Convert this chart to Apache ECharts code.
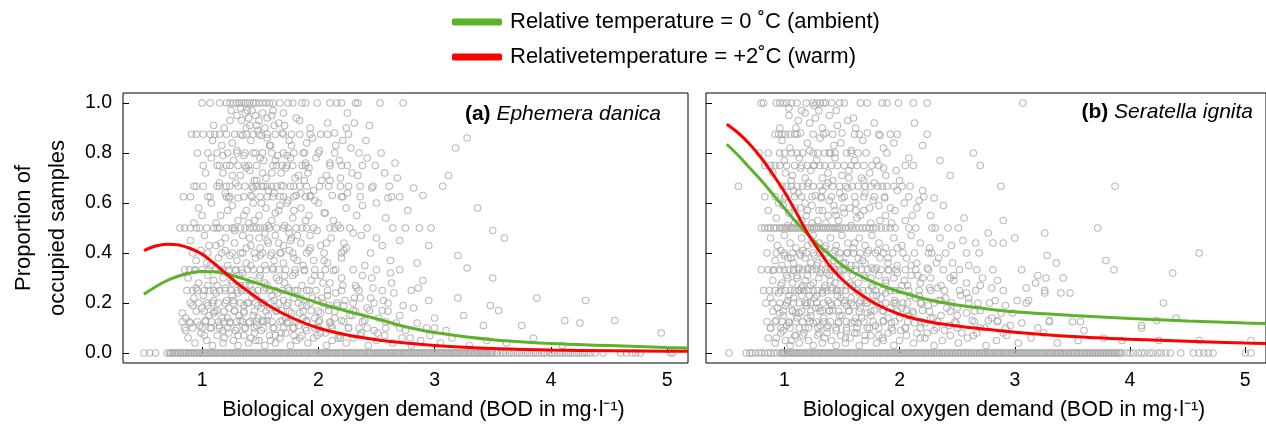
<!DOCTYPE html>
<html>
<head>
<meta charset="utf-8">
<script src="https://cdn.jsdelivr.net/npm/echarts@6/dist/echarts.min.js"></script>
<style>html,body{margin:0;padding:0;background:#fff}#c{width:1266px;height:426px}</style>
</head>
<body>
<div id="c"></div>
<script>
// ---------- data ----------
const xTicks = [1, 2, 3, 4, 5];
const yTicks = [0, 0.2, 0.4, 0.6, 0.8, 1.0];
const legendNames = ['Relative temperature = 0 \u02DAC (ambient)', 'Relativetemperature = +2\u02DAC (warm)'];
const panelTitles = [['(a)', 'Ephemera danica'], ['(b)', 'Seratella ignita']];

const curveX   = [0.5,0.6,0.7,0.8,0.9,1.0,1.1,1.2,1.3,1.4,1.5,1.6,1.8,2.0,2.25,2.5,2.75,3.0,3.5,4.0,4.5,5.0,5.18];
const aAmbient = [0.235,0.265,0.29,0.308,0.32,0.326,0.325,0.318,0.305,0.29,0.275,0.26,0.23,0.2,0.167,0.137,0.105,0.082,0.053,0.038,0.03,0.022,0.02];
const aWarm    = [0.41,0.428,0.435,0.432,0.418,0.395,0.36,0.32,0.28,0.245,0.212,0.182,0.135,0.1,0.072,0.053,0.04,0.03,0.018,0.012,0.009,0.007,0.007];
const bAmbient = [0.835,0.79,0.74,0.69,0.635,0.58,0.525,0.475,0.43,0.39,0.352,0.322,0.278,0.245,0.213,0.192,0.177,0.165,0.15,0.138,0.128,0.12,0.118];
const bWarm    = [0.915,0.88,0.835,0.78,0.715,0.645,0.565,0.48,0.41,0.345,0.295,0.255,0.195,0.155,0.125,0.108,0.095,0.083,0.066,0.055,0.047,0.04,0.038];

// proportions that repeat (rows of points), x positions per row
const rowY = [1, 0.875, 0.8, 0.75, 0.667, 0.625, 0.5, 0.4, 0.333, 0.25, 0.2, 0.167, 0.125, 0.1];
const aRowX = [
 [1.0,1.07,1.15,1.21,1.24,1.27,1.3,1.32,1.34,1.37,1.39,1.41,1.44,1.46,1.49,1.52,1.55,1.58,1.61,1.67,1.74,1.78,1.86,1.89,1.99,2.1,2.16,2.2,2.32,2.34,2.53,2.73],
 [0.91,0.95,1.01,1.07,1.11,1.15,1.21,1.28,1.33,1.38,1.44,1.49,1.56,1.63,1.7,1.77,1.84,1.93,2.02,2.08,2.26],
 [1.05,1.13,1.22,1.3,1.37,1.46,1.52,1.6,1.7,1.79,1.88,2.0,2.14,2.35],
 [1.01,1.13,1.15,1.21,1.24,1.31,1.37,1.4,1.47,1.61,1.64,1.69,1.73,1.78,1.86,1.89,2.1,2.2,2.25,2.38,2.49],
 [0.93,0.95,1.01,1.13,1.15,1.21,1.24,1.31,1.37,1.43,1.47,1.51,1.53,1.56,1.6,1.64,1.7,1.76,1.79,1.84,1.9,2.01,2.09,2.19,2.26,2.36,2.47,2.61,3.07],
 [0.84,0.9,1.05,1.07,1.21,1.24,1.36,1.43,1.5,1.56,1.61,1.67,1.7,1.79,1.89,1.93,2.2,2.21,2.36,2.63,2.7],
 [0.81,0.85,0.9,0.95,0.98,1.04,1.1,1.13,1.15,1.21,1.26,1.28,1.33,1.37,1.41,1.44,1.47,1.5,1.54,1.58,1.64,1.7,1.74,1.81,1.86,1.9,1.96,2.1,2.14,2.19,2.27,2.42,2.64,2.87,2.97],
 [0.92,1.05,1.17,1.26,1.35,1.45,1.52,1.6,1.68,1.78,1.9,2.05,2.2,2.45],
 [0.85,0.89,0.94,1.0,1.06,1.12,1.18,1.23,1.29,1.34,1.39,1.44,1.5,1.55,1.61,1.66,1.72,1.8,1.88,1.97,2.06,2.15,2.3,2.5,2.7],
 [0.87,0.92,0.96,1.02,1.06,1.1,1.15,1.2,1.25,1.3,1.34,1.38,1.43,1.48,1.53,1.58,1.63,1.69,1.75,1.82,1.9,1.98,2.08,2.2,2.35,2.55,2.8],
 [0.9,0.97,1.04,1.09,1.14,1.2,1.27,1.33,1.4,1.46,1.52,1.59,1.66,1.74,1.83,1.93,2.04,2.16,2.3,2.48],
 [0.95,1.02,1.11,1.19,1.28,1.36,1.45,1.55,1.64,1.75,1.87,2.0,2.14,2.32,2.6],
 [0.83,0.89,0.96,1.03,1.08,1.14,1.19,1.24,1.3,1.35,1.41,1.47,1.53,1.6,1.67,1.74,1.81,1.9,2.0,2.1,2.22,2.38,2.58],
 [0.85,0.92,1.0,1.07,1.15,1.22,1.3,1.37,1.45,1.53,1.61,1.7,1.79,1.89,2.0,2.12,2.26,2.42,2.7,3.0]
];
const bRowX = [
 [0.8,0.82,0.93,0.96,0.99,1.02,1.06,1.11,1.19,1.25,1.28,1.31,1.34,1.36,1.41,1.48,1.52,1.66,1.72,1.85,1.89,1.99,2.12,2.24,3.07],
 [0.92,0.95,0.98,1.01,1.05,1.09,1.11,1.25,1.34,1.42,1.61,1.65,1.82,1.92,1.98,2.24],
 [0.78,0.86,0.96,1.0,1.06,1.11,1.16,1.25,1.29,1.35,1.39,1.44,1.54,1.58,1.64,1.71,1.89,2.64],
 [0.83,0.88,0.92,0.96,1.02,1.09,1.15,1.2,1.25,1.31,1.35,1.41,1.46,1.52,1.58,1.63,1.69,1.76,1.82,2.05,2.12,2.7],
 [0.6,0.98,1.02,1.06,1.11,1.16,1.2,1.25,1.31,1.36,1.42,1.48,1.53,1.59,1.64,1.7,1.75,1.81,1.85,1.89,1.95,2.02,2.09,2.88,3.87],
 [0.83,0.92,1.01,1.09,1.15,1.24,1.32,1.41,1.52,1.61,1.69,1.78,1.87,2.08,2.21],
 [0.8,0.83,0.86,0.88,0.91,0.93,0.96,0.98,1.0,1.02,1.04,1.06,1.08,1.1,1.12,1.14,1.16,1.18,1.2,1.22,1.24,1.26,1.28,1.3,1.32,1.34,1.36,1.38,1.4,1.42,1.44,1.46,1.48,1.5,1.53,1.56,1.59,1.62,1.65,1.68,1.71,1.74,1.77,1.8,1.84,1.88,1.92,1.96,2.08,2.14,2.28,2.31,2.42,2.51,3.72],
 [0.85,0.93,1.0,1.07,1.13,1.19,1.25,1.31,1.36,1.42,1.48,1.54,1.6,1.66,1.72,1.79,1.86,1.94,2.03,2.13,2.25,2.4,2.58,2.69,4.6],
 [0.8,0.86,0.91,0.96,1.0,1.04,1.08,1.12,1.16,1.2,1.24,1.28,1.32,1.36,1.4,1.44,1.48,1.52,1.57,1.62,1.67,1.72,1.78,1.84,1.9,1.97,2.05,2.14,2.25,2.38,2.52,2.67,2.81,3.06,3.86],
 [0.82,0.87,0.92,0.97,1.01,1.05,1.09,1.13,1.17,1.21,1.25,1.29,1.33,1.37,1.41,1.45,1.49,1.53,1.58,1.63,1.68,1.73,1.79,1.85,1.92,2.0,2.08,2.17,2.27,2.39,2.52,2.66,2.9,3.26],
 [0.84,0.9,0.96,1.02,1.08,1.13,1.18,1.23,1.28,1.34,1.4,1.46,1.52,1.58,1.65,1.72,1.8,1.88,1.97,2.07,2.18,2.3,2.45,2.6,2.78,3.1,4.29],
 [0.9,0.99,1.07,1.15,1.23,1.31,1.39,1.47,1.56,1.65,1.75,1.86,1.98,2.11,2.26,2.44,2.65],
 [0.85,0.92,0.98,1.04,1.1,1.16,1.22,1.28,1.34,1.4,1.47,1.54,1.61,1.69,1.77,1.86,1.96,2.07,2.19,2.33,2.48,2.65,2.85,3.3,3.5,3.57],
 [0.88,0.97,1.05,1.13,1.21,1.29,1.37,1.45,1.54,1.63,1.72,1.82,1.93,2.05,2.18,2.32,2.5,2.7,2.92,3.2,4.1]
];

// samples with zero occupancy (x positions)
const aZeroX = [0.5,0.55,0.6,0.7,0.72,0.745,0.77,0.79,0.815,0.84,0.86,0.885,0.91,0.93,0.955,0.98,1.0,1.025,1.05,1.07,1.095,1.12,1.14,1.165,1.19,1.21,1.235,1.26,1.28,1.305,1.33,1.35,1.375,1.4,1.42,1.445,1.47,1.49,1.515,1.54,1.56,1.585,1.61,1.63,1.655,1.68,1.7,1.725,1.75,1.77,1.795,1.82,1.84,1.865,1.89,1.91,1.935,1.96,1.98,2.005,2.03,2.05,2.075,2.1,2.12,2.145,2.17,2.19,2.215,2.24,2.26,2.285,2.31,2.33,2.355,2.38,2.4,2.425,2.45,2.47,2.495,2.52,2.54,2.565,2.59,2.61,2.635,2.66,2.68,2.705,2.73,2.75,2.775,2.8,2.82,2.845,2.87,2.89,2.915,2.94,2.96,2.985,3.01,3.03,3.055,3.08,3.1,3.125,3.15,3.17,3.195,3.22,3.24,3.265,3.29,3.31,3.335,3.36,3.38,3.405,3.43,3.45,3.475,3.5,3.54,3.57,3.61,3.64,3.68,3.71,3.75,3.78,3.82,3.85,3.89,3.92,3.96,3.99,4.03,4.06,4.1,4.13,4.17,4.2,4.24,4.27,4.31,4.34,4.38,4.45,4.6,4.65,4.7,4.73,4.77,5.03,5.05];
const aZeroX2 = [0.73,0.76,0.8,0.83,0.87,0.9,0.94,0.97,1.01,1.04,1.08,1.11,1.15,1.18,1.22,1.25,1.29,1.32,1.36,1.39,1.43,1.46,1.5,1.53,1.57,1.6,1.64,1.67,1.71,1.74,1.78,1.81,1.85,1.88,1.92,1.95,1.99,2.02,2.06,2.09,2.13,2.16,2.2,2.23,2.27,2.3,2.34,2.37,2.41,2.44,2.48,2.51,2.55,2.58,2.62,2.65,2.69,2.72,2.76,2.79,2.83,2.86,2.9,2.93,2.97,3.0,3.04,3.07,3.11,3.14,3.18,3.21,3.25,3.28,3.32,3.35,3.39,3.42,3.46,3.49,3.53,3.59,3.66,3.73,3.8,3.87,3.94,4.01,4.08,4.15,4.22,4.29];
const bZeroX = [0.52,0.67,0.7,0.72,0.75,0.78,0.8,0.83,0.86,0.88,0.91,0.94,0.97,0.99,1.015,1.04,1.06,1.085,1.11,1.13,1.155,1.18,1.2,1.225,1.25,1.27,1.295,1.32,1.34,1.365,1.39,1.41,1.435,1.46,1.48,1.505,1.53,1.55,1.575,1.6,1.62,1.645,1.67,1.69,1.715,1.74,1.76,1.785,1.81,1.83,1.855,1.88,1.9,1.925,1.95,1.97,1.995,2.02,2.04,2.065,2.09,2.11,2.135,2.16,2.18,2.205,2.23,2.25,2.275,2.3,2.32,2.345,2.37,2.39,2.415,2.44,2.46,2.485,2.51,2.53,2.555,2.58,2.6,2.625,2.65,2.67,2.695,2.72,2.74,2.765,2.79,2.81,2.835,2.86,2.88,2.905,2.93,2.95,2.975,3.0,3.02,3.045,3.07,3.09,3.115,3.14,3.16,3.185,3.21,3.23,3.255,3.28,3.3,3.325,3.35,3.37,3.395,3.42,3.44,3.465,3.49,3.51,3.535,3.56,3.58,3.605,3.63,3.65,3.675,3.7,3.72,3.745,3.77,3.79,3.815,3.84,3.86,3.885,3.91,3.93,3.97,4.0,4.03,4.07,4.1,4.13,4.17,4.2,4.24,4.27,4.31,4.35,4.44,4.55,4.6,4.64,4.68,4.72,5.0,5.05];
const bZeroX2 = [0.98,1.0,1.03,1.07,1.1,1.14,1.17,1.21,1.24,1.28,1.31,1.35,1.38,1.42,1.45,1.49,1.52,1.56,1.59,1.63,1.66,1.7,1.73,1.77,1.8,1.84,1.87,1.91,1.94,1.98,2.01,2.05,2.08,2.12,2.15,2.19,2.22,2.26,2.29,2.33,2.36,2.4,2.43,2.47,2.5,2.54,2.57,2.61,2.64,2.68,2.71,2.75,2.78,2.82,2.85,2.89,2.92,2.96,2.99,3.03,3.06,3.1,3.13,3.17,3.2,3.24,3.27,3.31,3.34,3.38,3.41,3.45,3.48,3.52,3.55,3.59,3.62,3.66,3.69,3.73,3.76,3.8,3.83,3.87,3.9];

// other samples [BOD, proportion]
const aPts = [
 [1.3,.95],[1.34,.93],[1.37,.96],[1.4,.94],[1.43,.97],[1.46,.95],[1.49,.93],[1.52,.96],[1.56,.94],[1.6,.95],[1.1,.91],[1.19,.9],[1.38,.9],[1.47,.91],[1.54,.9],[1.66,.92],[1.71,.91],[1.93,.9],[2.08,.92],[2.24,.9],[2.31,.92],[2.44,.91],[2.25,.96],[1.26,.84],[1.42,.85],[1.58,.83],[1.75,.85],[1.9,.84],[2.15,.83],
 [1.08,.78],[1.18,.72],[1.27,.77],[1.33,.71],[1.41,.73],[1.5,.78],[1.55,.7],[1.63,.77],[1.68,.72],[1.76,.78],[1.83,.71],[1.92,.74],[1.98,.78],[2.07,.71],[2.18,.77],[2.29,.72],[2.42,.78],[2.57,.72],[2.66,.76],[1.45,.69],[1.88,.69],
 [0.97,.58],[1.08,.6],[1.16,.55],[1.26,.59],[1.31,.53],[1.38,.57],[1.44,.6],[1.49,.55],[1.55,.58],[1.6,.53],[1.66,.57],[1.73,.6],[1.78,.54],[1.85,.58],[1.92,.55],[2.0,.6],[2.06,.56],[2.13,.53],[2.24,.58],[2.33,.55],[2.5,.6],[2.58,.54],[2.77,.57],[2.9,.63],[1.2,.64],[1.62,.64],[1.96,.65],
 [0.9,.45],[1.02,.47],[1.12,.43],[1.2,.46],[1.28,.44],[1.35,.47],[1.42,.43],[1.49,.46],[1.57,.44],[1.63,.47],[1.7,.43],[1.77,.46],[1.85,.44],[1.93,.47],[2.02,.43],[2.11,.46],[2.22,.44],[2.37,.47],[2.55,.43],[2.7,.45],[3.28,.34],
 [0.95,.37],[1.04,.36],[1.14,.38],[1.22,.35],[1.3,.37],[1.38,.36],[1.46,.38],[1.54,.35],[1.62,.37],[1.7,.36],[1.79,.38],[1.87,.35],[1.96,.37],[2.08,.36],[2.2,.38],[2.4,.35],[2.62,.37],[2.85,.36],
 [0.88,.3],[0.97,.28],[1.05,.31],[1.13,.27],[1.18,.3],[1.26,.28],[1.32,.31],[1.37,.27],[1.42,.29],[1.5,.31],[1.56,.27],[1.64,.3],[1.71,.28],[1.78,.31],[1.86,.27],[1.94,.29],[2.02,.31],[2.1,.28],[2.2,.3],[2.32,.27],[2.46,.3],[2.63,.28],[2.9,.29],[3.5,.3],
 [0.83,.16],[0.86,.14],[0.93,.22],[1.0,.18],[1.06,.15],[1.1,.21],[1.17,.14],[1.23,.18],[1.26,.23],[1.32,.15],[1.36,.19],[1.43,.22],[1.48,.14],[1.51,.18],[1.57,.15],[1.62,.21],[1.68,.17],[1.72,.14],[1.79,.22],[1.84,.16],[1.9,.19],[1.97,.14],[2.03,.22],[2.09,.17],[2.14,.14],[2.22,.19],[2.29,.15],[2.36,.22],[2.44,.17],[2.52,.14],[2.6,.2],[2.7,.15],[2.82,.18],[3.0,.14],[3.2,.22],[3.48,.19],
 [0.88,.06],[0.94,.04],[0.99,.08],[1.04,.05],[1.09,.03],[1.13,.07],[1.18,.04],[1.23,.08],[1.27,.05],[1.31,.03],[1.36,.07],[1.4,.04],[1.45,.08],[1.49,.05],[1.54,.03],[1.58,.07],[1.63,.04],[1.67,.06],[1.72,.08],[1.76,.03],[1.81,.05],[1.86,.07],[1.91,.04],[1.96,.06],[2.02,.08],[2.07,.03],[2.12,.05],[2.18,.07],[2.24,.04],[2.3,.06],[2.37,.08],[2.43,.03],[2.5,.05],[2.57,.07],[2.64,.04],[2.72,.06],[2.8,.03],[2.88,.05],[2.96,.07],[3.05,.04],[3.15,.06],[3.3,.03],[3.45,.05],[3.62,.04],[3.85,.06],[4.1,.03],
 [3.12,.71],[3.18,.82],[3.28,.86],[3.37,.58],[3.5,.49],[3.6,.46],[3.88,.22],[4.12,.13],[4.3,.21],[4.25,.12],[3.75,.11],[3.55,.17],[4.55,.13],[4.95,.08],[3.2,.39],[2.95,.43],[3.42,.11]
];
const aPtsDense = [
 [0.86,.09],[0.9,.12],[0.92,.19],[0.95,.26],[0.98,.11],[1.01,.23],[1.03,.13],[1.05,.27],[1.08,.1],[1.1,.16],[1.12,.24],[1.15,.11],[1.16,.33],[1.19,.06],[1.21,.21],[1.24,.12],[1.25,.29],[1.28,.17],[1.29,.09],[1.31,.24],[1.33,.13],[1.35,.32],[1.37,.1],[1.39,.2],[1.41,.27],[1.42,.06],[1.44,.15],[1.46,.23],[1.47,.11],[1.49,.3],[1.51,.09],[1.53,.2],[1.55,.26],[1.56,.13],[1.59,.05],[1.6,.23],[1.62,.1],[1.64,.17],[1.66,.29],[1.68,.08],[1.7,.21],[1.73,.12],[1.74,.26],[1.77,.16],[1.79,.07],[1.8,.32],[1.83,.11],[1.85,.22],[1.87,.14],[1.9,.09],[1.92,.25],[1.94,.17],[1.97,.1],[1.99,.21],[2.01,.13],[2.04,.28],[2.06,.08],[2.09,.19],[2.11,.11],[2.15,.24],[2.17,.06],[2.2,.13],[2.23,.21],[2.26,.1],[2.3,.17],[2.33,.26],[2.36,.07],[2.4,.13],[2.45,.22],[2.48,.09],[2.55,.17],[2.58,.1],[2.65,.24],[2.75,.09],[2.85,.12],[2.95,.21],[3.1,.09],[3.25,.15],
 [1.12,.52],[1.15,.68],[1.17,.83],[1.2,.41],[1.22,.57],[1.24,.93],[1.26,.71],[1.28,.49],[1.3,.81],[1.31,.62],[1.33,.4],[1.35,.87],[1.36,.55],[1.38,.74],[1.39,.97],[1.41,.46],[1.42,.63],[1.44,.8],[1.45,.53],[1.47,.69],[1.48,.89],[1.5,.42],[1.51,.6],[1.53,.77],[1.54,.48],[1.56,.86],[1.57,.65],[1.59,.39],[1.6,.72],[1.62,.91],[1.63,.56],[1.65,.79],[1.66,.44],[1.68,.67],[1.69,.88],[1.71,.51],[1.72,.74],[1.74,.61],[1.75,.41],[1.77,.83],[1.79,.57],[1.8,.7],[1.82,.47],[1.84,.93],[1.85,.64],[1.87,.8],[1.89,.53],[1.91,.72],[1.93,.42],[1.95,.86],[1.97,.61],[1.99,.49],[2.01,.81],[2.03,.69],[2.05,.56],[2.07,.44],[2.1,.76],[2.12,.63],[2.14,.88],[2.17,.51],[2.19,.7],[2.22,.41],[2.25,.64],[2.28,.82],[2.3,.48],[2.34,.71],[2.38,.59],[2.41,.85],[2.46,.66],[2.5,.46],[2.54,.8],[2.6,.62],[2.68,.7],[2.75,.5],[2.82,.66],[1.0,.55],[1.03,.72],[1.06,.43],[1.09,.85],[0.96,.8],[0.93,.52],
 [0.94,.33],[0.99,.41],[1.02,.07],[1.05,.19],[1.07,.35],[1.1,.29],[1.13,.17],[1.16,.44],[1.18,.09],[1.2,.26],[1.22,.14],[1.24,.39],[1.27,.21],[1.29,.33],[1.31,.07],[1.33,.27],[1.36,.16],[1.38,.42],[1.4,.12],[1.42,.35],[1.44,.24],[1.46,.05],[1.48,.19],[1.5,.39],[1.52,.13],[1.54,.28],[1.56,.45],[1.58,.18],[1.61,.34],[1.63,.07],[1.65,.24],[1.67,.4],[1.69,.13],[1.71,.31],[1.73,.19],[1.76,.45],[1.78,.1],[1.8,.25],[1.82,.37],[1.84,.06],[1.86,.19],[1.88,.33],[1.9,.13],[1.92,.41],[1.95,.22],[1.97,.31],[1.99,.07],[2.02,.16],[2.05,.37],[2.08,.23],[2.1,.12],[2.13,.33],[2.16,.19],[2.19,.06],[2.21,.27],[2.24,.42],[2.27,.15],[2.31,.22],[2.35,.1],[2.38,.31],[2.42,.18],[2.47,.26],[2.51,.08],[2.56,.21],[2.62,.32],[2.67,.12],[2.73,.19],[2.79,.06],[2.86,.26],[2.93,.1],
 [1.25,.97],[1.33,.98],[1.41,.91],[1.51,.87],[1.61,.97],[1.7,.96],[1.81,.94],[1.36,.79],[1.44,.66],[1.52,.72],[1.59,.83],[1.67,.59],[1.73,.79],[1.81,.63],[1.89,.76],[1.23,.62],[1.29,.68],[1.18,.79],[1.4,.52],[1.57,.51],[1.75,.48],[1.93,.63],[2.1,.69],[2.21,.85]
];
const bPts = [
 [1.04,.95],[1.12,.93],[1.18,.96],[1.22,.92],[1.27,.94],[1.33,.9],[1.39,.95],[1.46,.91],[1.55,.93],[1.62,.9],[1.78,.92],[1.3,.97],[1.5,.88],[0.96,.9],[2.13,.92],[2.2,.83],[1.2,.84],[1.43,.83],[1.68,.85],[1.95,.84],
 [0.9,.72],[1.0,.77],[1.07,.71],[1.13,.78],[1.18,.7],[1.23,.73],[1.28,.77],[1.33,.7],[1.38,.72],[1.44,.78],[1.5,.71],[1.56,.73],[1.61,.77],[1.67,.7],[1.74,.72],[1.8,.77],[1.88,.71],[1.97,.73],[2.08,.78],[2.35,.77],[2.44,.71],
 [0.86,.57],[0.93,.54],[0.99,.59],[1.04,.56],[1.09,.52],[1.14,.58],[1.19,.55],[1.24,.59],[1.29,.53],[1.33,.57],[1.38,.55],[1.43,.59],[1.47,.53],[1.52,.56],[1.57,.58],[1.63,.54],[1.69,.57],[1.75,.52],[1.82,.59],[1.88,.55],[1.96,.57],[2.05,.53],[2.15,.58],[2.27,.55],[2.38,.59],[2.56,.54],[2.9,.53],
 [0.88,.46],[0.94,.43],[1.0,.47],[1.05,.44],[1.1,.42],[1.15,.46],[1.2,.43],[1.25,.47],[1.3,.44],[1.35,.42],[1.4,.46],[1.45,.43],[1.5,.47],[1.55,.44],[1.6,.42],[1.65,.46],[1.7,.43],[1.76,.47],[1.82,.44],[1.88,.42],[1.95,.46],[2.02,.43],[2.1,.47],[2.18,.44],[2.26,.42],[2.35,.46],[2.45,.43],[2.55,.45],[2.66,.44],[2.77,.48],[2.81,.44],[2.9,.44],[3.0,.46],[3.26,.48],
 [0.92,.37],[0.98,.35],[1.03,.38],[1.08,.36],[1.13,.34],[1.18,.38],[1.23,.36],[1.28,.35],[1.33,.38],[1.38,.36],[1.43,.34],[1.48,.38],[1.53,.36],[1.58,.35],[1.64,.38],[1.7,.36],[1.76,.34],[1.83,.38],[1.9,.36],[1.98,.35],[2.06,.38],[2.15,.36],[2.24,.34],[2.34,.38],[2.46,.36],[2.6,.35],[3.28,.39],[3.36,.36],[3.79,.37],
 [0.9,.29],[0.97,.27],[1.02,.31],[1.07,.28],[1.11,.3],[1.16,.27],[1.2,.31],[1.25,.28],[1.3,.3],[1.35,.27],[1.39,.31],[1.44,.28],[1.49,.3],[1.54,.27],[1.59,.31],[1.64,.28],[1.7,.3],[1.76,.27],[1.82,.31],[1.88,.28],[1.95,.3],[2.02,.27],[2.1,.31],[2.18,.28],[2.27,.3],[2.36,.27],[2.47,.31],[2.58,.28],[2.72,.3],[2.85,.29],[3.2,.31],[3.42,.3],[3.27,.3],[3.18,.28],[4.37,.32],[3.1,.26],
 [0.88,.22],[0.94,.18],[0.99,.15],[1.03,.21],[1.07,.17],[1.11,.14],[1.15,.23],[1.19,.19],[1.23,.15],[1.26,.22],[1.3,.18],[1.34,.14],[1.38,.21],[1.42,.17],[1.46,.23],[1.5,.15],[1.54,.19],[1.58,.22],[1.62,.14],[1.66,.18],[1.7,.21],[1.75,.15],[1.8,.23],[1.85,.17],[1.9,.14],[1.96,.21],[2.02,.18],[2.08,.15],[2.14,.22],[2.2,.17],[2.27,.14],[2.34,.21],[2.41,.18],[2.5,.15],[2.6,.22],[2.7,.17],[2.8,.14],[2.92,.19],[3.02,.21],[3.12,.21],[3.26,.24],[3.4,.24],[3.48,.24],[4.4,.14],[2.85,.13],[3.3,.13],[4.23,.13],
 [0.86,.06],[0.92,.04],[0.97,.08],[1.01,.05],[1.05,.03],[1.09,.07],[1.13,.04],[1.17,.08],[1.21,.05],[1.25,.03],[1.29,.07],[1.33,.04],[1.37,.08],[1.41,.05],[1.45,.03],[1.49,.07],[1.53,.04],[1.57,.06],[1.61,.08],[1.65,.03],[1.7,.05],[1.75,.07],[1.8,.04],[1.85,.06],[1.9,.08],[1.95,.03],[2.0,.05],[2.06,.07],[2.12,.04],[2.18,.06],[2.24,.08],[2.3,.03],[2.37,.05],[2.44,.07],[2.51,.04],[2.59,.06],[2.67,.08],[2.75,.03],[2.84,.05],[2.93,.07],[3.03,.04],[3.14,.06],[3.25,.08],[3.37,.04],[3.55,.05],[3.77,.06],[3.93,.05],[4.25,.05],[4.6,.05],[5.05,.05],[3.6,.09],[4.1,.11]
];
const bPtsDense = [
 [0.88,.1],[0.9,.33],[0.93,.13],[0.95,.24],[0.97,.41],[0.99,.09],[1.01,.19],[1.03,.3],[1.04,.12],[1.06,.38],[1.08,.22],[1.1,.07],[1.11,.31],[1.13,.16],[1.15,.26],[1.16,.41],[1.18,.1],[1.2,.2],[1.21,.34],[1.23,.27],[1.25,.12],[1.26,.39],[1.28,.23],[1.3,.08],[1.31,.32],[1.33,.17],[1.35,.26],[1.36,.43],[1.38,.11],[1.4,.29],[1.41,.19],[1.43,.37],[1.45,.09],[1.46,.25],[1.48,.15],[1.5,.33],[1.52,.21],[1.53,.06],[1.55,.4],[1.57,.28],[1.58,.12],[1.6,.19],[1.62,.35],[1.63,.08],[1.65,.24],[1.67,.14],[1.69,.31],[1.71,.2],[1.73,.41],[1.74,.1],[1.76,.26],[1.78,.17],[1.8,.34],[1.82,.07],[1.84,.22],[1.86,.13],[1.88,.29],[1.9,.38],[1.92,.18],[1.94,.09],[1.96,.25],[1.98,.32],[2.0,.14],[2.03,.2],[2.05,.1],[2.07,.27],[2.1,.35],[2.12,.16],[2.15,.08],[2.17,.23],[2.2,.3],[2.22,.12],[2.25,.19],[2.28,.4],[2.3,.09],[2.33,.26],[2.36,.15],[2.4,.22],[2.43,.11],[2.47,.29],[2.5,.18],[2.54,.08],[2.58,.24],[2.63,.13],[2.68,.2],[2.74,.1],[2.8,.26],[2.88,.16],[2.96,.11],
 [1.0,.62],[1.03,.51],[1.06,.69],[1.09,.58],[1.12,.64],[1.15,.53],[1.18,.6],[1.21,.68],[1.24,.52],[1.27,.63],[1.3,.57],[1.33,.65],[1.36,.52],[1.39,.61],[1.42,.69],[1.45,.55],[1.48,.64],[1.51,.58],[1.55,.66],[1.58,.51],[1.62,.6],[1.66,.55],[1.7,.64],[1.74,.58],[1.78,.68],[1.83,.53],[1.87,.62],[1.92,.58],[1.98,.65],[2.04,.6],[2.11,.55],[2.2,.65],[2.3,.62],
 [0.98,.85],[1.05,.82],[1.14,.88],[1.22,.81],[1.31,.86],[1.4,.8],[1.49,.84],[1.58,.81],[1.72,.88],[1.86,.82],[1.04,.98],[1.15,.97],[1.26,.99],[1.45,.97],
 [0.93,.06],[0.96,.16],[0.98,.28],[1.0,.39],[1.02,.11],[1.04,.23],[1.06,.05],[1.08,.33],[1.1,.16],[1.12,.25],[1.14,.39],[1.16,.07],[1.18,.29],[1.2,.14],[1.22,.23],[1.24,.44],[1.27,.18],[1.29,.36],[1.31,.11],[1.33,.24],[1.35,.06],[1.37,.32],[1.39,.17],[1.42,.26],[1.44,.41],[1.47,.12],[1.49,.22],[1.51,.36],[1.54,.09],[1.56,.17],[1.59,.27],[1.61,.44],[1.64,.12],[1.66,.21],[1.68,.37],[1.7,.07],[1.72,.16],[1.75,.3],[1.77,.23],[1.79,.11],[1.81,.41],[1.83,.19],[1.86,.05],[1.88,.24],[1.91,.33],[1.93,.12],[1.95,.2],[1.98,.42],[2.01,.09],[2.04,.29],[2.06,.17],[2.09,.23],[2.13,.12],[2.16,.31],[2.19,.2],[2.22,.06],[2.26,.26],[2.29,.14],[2.32,.36],[2.36,.21],[2.39,.09],[2.44,.3],[2.49,.12],[2.53,.23],[2.58,.16],[2.64,.07],[2.7,.27],[2.77,.13],[2.83,.21],[2.9,.08],[2.98,.16],[3.06,.12],
 [0.95,.6],[1.01,.72],[1.08,.65],[1.14,.74],[1.2,.57],[1.26,.75],[1.32,.62],[1.38,.68],[1.44,.57],[1.5,.62],[1.56,.7],[1.62,.57],[1.69,.69],[1.77,.61],[1.86,.74],[1.93,.52],[2.0,.69],[2.17,.61],[1.1,.9],[1.36,.88],[1.6,.94],[1.83,.87]
];

// ---------- build ----------
function buildPoints(pts, extra, rowX, zeroX, zeroX2) {
  const out = pts.concat(extra);
  rowX.forEach((xs, i) => xs.forEach(x => out.push([x, rowY[i]])));
  zeroX.concat(zeroX2).forEach(x => out.push([x, 0]));
  return out;
}
function pair(xs, ys) { return xs.map((x, i) => [x, ys[i]]); }

const FONT = 'Liberation Sans, Arial, Helvetica, sans-serif';
const GREEN = '#5db22b', RED = '#ff0000', GRAY = '#a8a8a8';

function xAxisFor(idx) {
  return {
    type: 'value', gridIndex: idx, min: 0.32, max: 5.18,
    axisLine: { show: false }, splitLine: { show: false },
    axisTick: { inside: true, length: 6, customValues: xTicks, lineStyle: { color: '#000', width: 1 } },
    axisLabel: { customValues: xTicks, margin: 8, color: '#000', fontSize: 19.5, fontFamily: FONT },
    name: 'Biological oxygen demand (BOD in mg\u00B7l\u207B\u00B9)', nameLocation: 'middle', nameGap: 36,
    nameTextStyle: { color: '#000', fontSize: 21.5, fontFamily: FONT, padding: [0, 0, 0, 36] }
  };
}
function yAxisFor(idx) {
  const ax = {
    type: 'value', gridIndex: idx, min: -0.04, max: 1.04,
    axisLine: { show: false }, splitLine: { show: false },
    axisTick: { inside: true, length: 6, customValues: yTicks, lineStyle: { color: '#000', width: 1 } },
    axisLabel: { show: idx === 0, customValues: yTicks, margin: 11, color: '#000', fontSize: 19.5, fontFamily: FONT,
      formatter: v => v.toFixed(1) }
  };
  if (idx === 0) {
    ax.name = 'Proportion of\noccupied samples';
    ax.nameLocation = 'middle';
    ax.nameRotate = 90;
    ax.nameGap = 48;
    ax.nameTextStyle = { color: '#000', fontSize: 22, fontFamily: FONT, lineHeight: 34 };
  }
  return ax;
}
function scatterFor(idx, data) {
  return { type: 'scatter', xAxisIndex: idx, yAxisIndex: idx, data: data, symbol: 'circle', symbolSize: 6.5,
    itemStyle: { color: 'rgba(0,0,0,0)', borderColor: GRAY, borderWidth: 1.1 }, silent: true, z: 1,
    progressive: 0, large: false };
}
function lineFor(idx, name, color, ys) {
  return { type: 'line', name: name, xAxisIndex: idx, yAxisIndex: idx, data: pair(curveX, ys), smooth: 0.35,
    showSymbol: false, symbol: 'none', lineStyle: { color: color, width: 3 }, itemStyle: { color: color }, z: 5 };
}
function titleFor(i, right, top) {
  const rich = { b: { fontWeight: 'bold', fontSize: 21, fontFamily: FONT, color: '#000' },
                 i: { fontStyle: 'italic', fontWeight: 'normal', fontSize: 21, fontFamily: FONT, color: '#000' } };
  return { text: '{b|' + panelTitles[i][0] + '} {i|' + panelTitles[i][1] + '}', right: right, top: top, padding: 0,
    textStyle: { fontSize: 21, fontWeight: 'normal', fontFamily: FONT, color: '#000', rich: rich } };
}

const chart = echarts.init(document.getElementById('c'), null, { renderer: 'canvas' });
chart.setOption({
  animation: false,
  backgroundColor: '#fff',
  legend: {
    data: legendNames, orient: 'vertical', left: 447, top: 4, itemWidth: 50, itemHeight: 7, itemGap: 9,
    icon: 'roundRect', selectedMode: false,
    textStyle: { color: '#000', fontSize: 22, fontFamily: FONT, lineHeight: 26, padding: [0, 0, 0, 3] }
  },
  title: [titleFor(0, 605, 104), titleFor(1, 13, 102)],
  grid: [
    { left: 123, top: 93, width: 565, height: 270, show: true, borderColor: '#000', borderWidth: 1, backgroundColor: 'transparent' },
    { left: 706, top: 93, right: -6, height: 270, show: true, borderColor: '#000', borderWidth: 1, backgroundColor: 'transparent' }
  ],
  xAxis: [xAxisFor(0), xAxisFor(1)],
  yAxis: [yAxisFor(0), yAxisFor(1)],
  series: [
    scatterFor(0, buildPoints(aPts, aPtsDense, aRowX, aZeroX, aZeroX2)),
    scatterFor(1, buildPoints(bPts, bPtsDense, bRowX, bZeroX, bZeroX2)),
    lineFor(0, legendNames[0], GREEN, aAmbient),
    lineFor(0, legendNames[1], RED, aWarm),
    lineFor(1, legendNames[0], GREEN, bAmbient),
    lineFor(1, legendNames[1], RED, bWarm)
  ]
});
</script>
</body>
</html>
